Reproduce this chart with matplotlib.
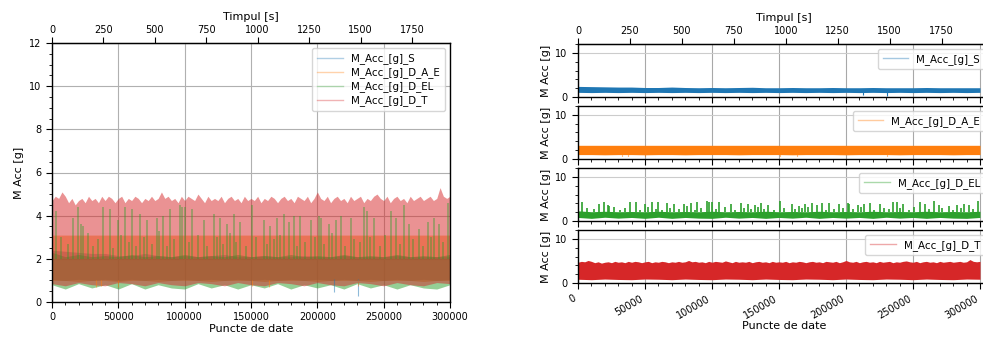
import numpy as np
import matplotlib
matplotlib.use('Agg')
import matplotlib.pyplot as plt
from matplotlib.ticker import AutoMinorLocator, MultipleLocator, FixedLocator
from matplotlib.lines import Line2D

# ---------------- data ----------------
RATE = 155.04  # samples per second (300000 samples ~ 1935 s)
series_names = ['M_Acc_[g]_S', 'M_Acc_[g]_D_A_E', 'M_Acc_[g]_D_EL', 'M_Acc_[g]_D_T']
colors = ['#1f77b4', '#ff7f0e', '#2ca02c', '#d62728']
time_ticks = [0, 250, 500, 750, 1000, 1250, 1500, 1750]

idx_coarse = np.arange(0, 300001, 10000)   # 31 envelope points
idx_fine = np.arange(0, 300001, 2500)      # 121 envelope points

# S: envelope of the noise band
s_lo = [1.05, 1.0, 1.05, 1.0, 1.05, 1.0, 1.05, 1.0, 1.05, 1.0, 1.05, 1.0, 1.05, 1.0, 1.05, 1.0,
        1.05, 1.0, 1.05, 1.0, 1.05, 1.0, 1.05, 1.0, 1.05, 1.0, 1.05, 1.0, 1.05, 1.0, 1.05]
s_hi = [2.4, 2.35, 2.3, 2.25, 2.25, 2.15, 2.15, 2.25, 2.15, 2.1, 2.15, 2.1, 2.15, 2.2, 2.1, 2.1,
        2.15, 2.1, 2.1, 2.15, 2.1, 2.1, 2.15, 2.1, 2.1, 2.1, 2.15, 2.1, 2.1, 2.1, 2.1]
s_dip_idx = [212700, 230600]
s_dip_val = [0.45, 0.3]

# D_A_E
ae_lo = [1.0, 1.0, 0.95, 1.0, 1.0, 0.95, 1.0, 1.0, 0.95, 1.0, 1.0, 1.0, 0.95, 1.0, 1.0, 1.0,
         0.95, 1.0, 1.0, 1.0, 0.95, 1.0, 1.0, 1.0, 0.95, 1.0, 1.0, 1.0, 0.95, 1.0, 1.0]
ae_hi = [3.1, 3.1, 3.1, 3.1, 3.1, 3.1, 3.1, 3.1, 3.1, 3.1, 3.1, 3.1, 3.1, 3.1, 3.1, 3.1,
         3.1, 3.1, 3.1, 3.1, 3.1, 3.1, 3.1, 3.1, 3.1, 3.1, 3.1, 3.1, 3.1, 3.1, 3.1]
ae_dip_idx = [32800, 37300, 50000, 150700, 163400, 230600]
ae_dip_val = [0.7, 0.75, 0.7, 0.75, 0.7, 0.75]

# D_EL
el_lo = [0.8, 0.6, 0.85, 0.65, 0.8, 0.6, 0.85, 0.6, 0.8, 0.65, 0.6, 0.85, 0.65, 0.8, 0.6, 0.8,
         0.65, 0.85, 0.6, 0.8, 0.65, 0.8, 0.6, 0.85, 0.65, 0.8, 0.6, 0.8, 0.65, 0.6, 0.8]
el_hi = [2.3, 2.1, 2.2, 2.1, 2.15, 2.1, 2.2, 2.1, 2.15, 2.1, 2.2, 2.1, 2.15, 2.1, 2.2, 2.1,
         2.15, 2.1, 2.2, 2.1, 2.15, 2.1, 2.2, 2.1, 2.15, 2.1, 2.2, 2.1, 2.15, 2.1, 2.2]
el_spike_idx = [3300, 15900, 19700, 22200, 23400, 38600, 43600, 49900, 55000, 60000, 66300,
                71300, 78900, 84000, 89000, 96600, 97800, 100300, 105400, 114200, 121800,
                126800, 131800, 136900, 141900, 150800, 159600, 164600, 169700, 174700,
                178500, 182300, 187300, 194900, 201200, 202400, 208700, 213800, 217600,
                225100, 235200, 237700, 242800, 255400, 259200, 265500, 269200, 276800,
                283100, 288200, 291900, 298200]
el_spike_val = [4.2, 3.9, 4.4, 3.6, 3.5, 4.4, 4.3, 3.8, 4.4, 4.3, 4.1, 3.8, 3.9, 4.0, 4.3,
                4.5, 4.4, 4.4, 4.3, 3.8, 4.1, 3.9, 3.6, 4.1, 3.7, 4.5, 3.8, 3.5, 3.9, 4.1,
                3.7, 4.0, 4.0, 3.8, 4.0, 3.9, 3.6, 3.8, 4.0, 3.9, 4.4, 4.2, 3.9, 4.2, 3.9,
                4.5, 3.6, 3.4, 3.7, 3.9, 3.6, 4.6]
el_small_idx = [7000, 12000, 27000, 31000, 35000, 46000, 52000, 58000, 63000, 69000, 75000,
                81000, 87000, 92000, 103000, 110000, 117000, 124000, 129000, 134000, 139000,
                146000, 154000, 162000, 167000, 172000, 185000, 191000, 198000, 205000,
                211000, 221000, 228000, 232000, 240000, 247000, 251000, 262000, 272000,
                280000, 286000, 295000]
el_small_val = [3.0, 2.7, 3.2, 2.6, 2.9, 2.5, 3.1, 2.8, 2.6, 3.0, 2.7, 3.3, 2.6, 2.9, 2.8,
                3.1, 2.6, 3.0, 2.7, 3.2, 2.8, 2.6, 3.0, 2.7, 2.9, 3.1, 2.6, 2.8, 3.0, 2.7,
                3.2, 2.6, 2.9, 2.8, 3.0, 2.6, 3.1, 2.7, 2.9, 2.6, 3.0, 2.8]

# D_T
t_lo = [0.85, 0.75, 0.9, 0.8, 0.75, 0.9, 0.85, 0.75, 0.9, 0.8, 0.75, 0.9, 0.85, 0.75, 0.9, 0.8,
        0.75, 0.9, 0.85, 0.75, 0.9, 0.8, 0.75, 0.9, 0.85, 0.75, 0.9, 0.8, 0.75, 0.9, 0.85]
t_hi = [4.7, 4.9, 4.8, 5.1, 4.9, 4.6, 4.8, 4.5, 4.7, 4.8,
        4.6, 4.9, 4.7, 4.8, 4.6, 4.9, 4.7, 4.9, 4.8, 4.6,
        4.8, 4.9, 4.6, 4.8, 4.7, 4.9, 4.8, 4.6, 4.8, 4.7,
        4.9, 4.7, 4.8, 5.1, 4.8, 4.9, 4.7, 4.8, 4.6, 4.9,
        4.7, 4.9, 4.8, 4.7, 5.0, 4.8, 4.6, 4.9, 4.7, 4.8,
        4.7, 4.9, 4.6, 4.8, 4.9, 4.7, 4.8, 4.6, 4.9, 4.7,
        4.8, 4.7, 4.9, 4.6, 4.8, 4.7, 4.9, 4.8, 4.6, 4.8,
        4.9, 4.7, 4.8, 4.6, 4.9, 4.8, 4.7, 4.9, 4.6, 4.8,
        5.1, 4.8, 4.7, 4.9, 4.6, 4.8, 4.9, 4.7, 4.8, 4.6,
        4.9, 4.7, 4.8, 4.9, 4.6, 4.8, 4.7, 4.9, 5.0, 4.8,
        4.7, 4.9, 4.6, 4.8, 4.9, 4.7, 4.8, 4.6, 4.9, 4.7,
        4.8, 4.9, 4.7, 4.8, 4.9, 4.7, 4.8, 5.3, 4.9, 4.8,
        4.9]

X_MAX = 300000

# ---------------- figure ----------------
plt.rcParams['font.family'] = ['DejaVu Sans']
fig = plt.figure(figsize=(9.83, 3.44), dpi=100)

TICK_FS = 7
LAB_FS = 8
LEG_FS = 7.4


def draw_series(ax, k, alpha, spike_lw):
    c = colors[k]
    if k == 0:
        ax.fill_between(idx_coarse, s_lo, s_hi, color=c, alpha=alpha, lw=0)
        ax.vlines(s_dip_idx, s_dip_val, s_lo[0], color=c, alpha=alpha, lw=0.8)
    elif k == 1:
        ax.fill_between(idx_coarse, ae_lo, ae_hi, color=c, alpha=alpha, lw=0)
        ax.vlines(ae_dip_idx, ae_dip_val, ae_lo[0], color=c, alpha=alpha, lw=0.8)
    elif k == 2:
        ax.fill_between(idx_coarse, el_lo, el_hi, color=c, alpha=alpha, lw=0)
        ax.vlines(el_spike_idx, 2.0, el_spike_val, color=c, alpha=alpha, lw=spike_lw)
        ax.vlines(el_small_idx, 2.0, el_small_val, color=c, alpha=alpha, lw=spike_lw)
    else:
        t_lo_f = np.interp(idx_fine, idx_coarse, t_lo)
        ax.fill_between(idx_fine, t_lo_f, t_hi, color=c, alpha=alpha, lw=0)


def style_axis(ax):
    ax.xaxis.set_minor_locator(AutoMinorLocator())
    ax.yaxis.set_minor_locator(AutoMinorLocator())
    ax.tick_params(axis='both', which='major', labelsize=TICK_FS, length=4, width=0.8)
    ax.tick_params(axis='both', which='minor', length=2.5, width=0.6)
    for sp in ax.spines.values():
        sp.set_linewidth(1.0)


# ---- left panel ----
axL = fig.add_axes([52 / 983, 1 - 302 / 344, 398 / 983, 259 / 344])
for k in range(4):
    draw_series(axL, k, 0.5, 1.1)
axL.set_xlim(0, X_MAX)
axL.set_ylim(0, 12)
axL.yaxis.set_major_locator(MultipleLocator(2))
axL.xaxis.set_major_locator(MultipleLocator(50000))
axL.grid(True, which='major', color='#b0b0b0', lw=0.8)
axL.set_axisbelow(True)
style_axis(axL)
axL.set_xlabel('Puncte de date', fontsize=LAB_FS, labelpad=1)
axL.set_ylabel('M Acc [g]', fontsize=LAB_FS, labelpad=4)
secL = axL.secondary_xaxis('top', functions=(lambda x: x / RATE, lambda t: t * RATE))
secL.xaxis.set_major_locator(FixedLocator(time_ticks))
secL.tick_params(labelsize=TICK_FS, length=4, width=0.8, pad=1.5)
secL.set_xlabel('Timpul [s]', fontsize=LAB_FS, labelpad=4)
handles = [Line2D([], [], color=c, lw=1.0, alpha=0.35) for c in colors]
axL.legend(handles, series_names, loc='upper right', fontsize=LEG_FS, framealpha=0.8,
           handlelength=2.5, borderpad=0.5, labelspacing=0.3)

# ---- right panels ----
right_left = 578 / 983
right_w = (990 - 578) / 983
xmax_right = X_MAX * 412 / 402
bottoms = [1 - 97 / 344, 1 - 159 / 344, 1 - 221 / 344, 1 - 283 / 344]
h = 53 / 344
axes_r = []
for k in range(4):
    ax = fig.add_axes([right_left, bottoms[k], right_w, h])
    draw_series(ax, k, 1.0, 1.2)
    ax.set_xlim(0, xmax_right)
    ax.set_ylim(0, 12)
    ax.yaxis.set_major_locator(MultipleLocator(10))
    ax.xaxis.set_major_locator(MultipleLocator(50000))
    ax.grid(True, axis='x', which='major', color='#a8a8a8', lw=0.8)
    ax.grid(True, axis='y', which='major', color='#cccccc', lw=0.8)
    ax.set_axisbelow(True)
    style_axis(ax)
    ax.set_ylabel('M Acc [g]', fontsize=LAB_FS, labelpad=3)
    ax.legend([Line2D([], [], color=colors[k], lw=1.0, alpha=0.4)], [series_names[k]],
              loc='upper right', fontsize=LEG_FS, framealpha=0.8, handlelength=2.5,
              borderpad=0.45)
    if k < 3:
        ax.tick_params(axis='x', labelbottom=False)
    axes_r.append(ax)

axB = axes_r[-1]
for lab in axB.get_xticklabels():
    lab.set_rotation(30)
    lab.set_ha('right')
axB.set_xlabel('Puncte de date', fontsize=LAB_FS, labelpad=0)

secR = axes_r[0].secondary_xaxis('top', functions=(lambda x: x / RATE, lambda t: t * RATE))
secR.xaxis.set_major_locator(FixedLocator(time_ticks))
secR.tick_params(labelsize=TICK_FS, length=4, width=0.8, pad=1.5)
secR.set_xlabel('Timpul [s]', fontsize=LAB_FS, labelpad=4)

fig.savefig('out.png', dpi=100)
